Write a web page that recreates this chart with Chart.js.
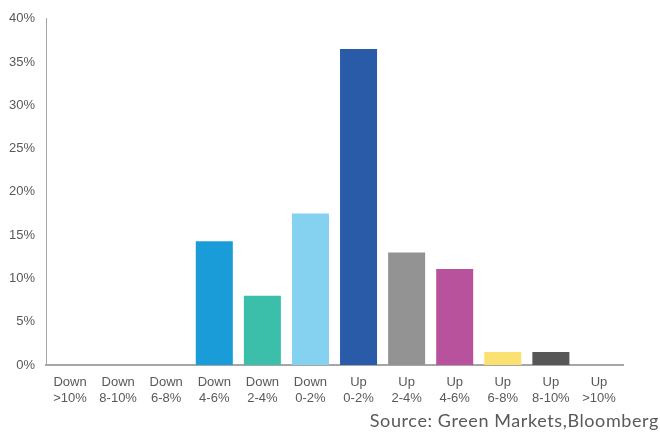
<!DOCTYPE html>
<html>
<head>
<meta charset="utf-8">
<script src="https://cdn.jsdelivr.net/npm/chart.js@4"></script>
<style>
  html, body { margin: 0; padding: 0; background: #fff; }
  #wrap { width: 660px; height: 434px; position: relative; }
</style>
</head>
<body>
<div id="wrap"><canvas id="myChart"></canvas></div>
<script>
const ctx = document.querySelector("#myChart");

// price change buckets
const categorias = [
  ["Down", ">10%"], ["Down", "8-10%"], ["Down", "6-8%"], ["Down", "4-6%"],
  ["Down", "2-4%"], ["Down", "0-2%"], ["Up", "0-2%"], ["Up", "2-4%"],
  ["Up", "4-6%"], ["Up", "6-8%"], ["Up", "8-10%"], ["Up", ">10%"],
];

// share of weeks in each bucket (%)
const valores = [0, 0, 0, 14.3, 8.0, 17.5, 36.5, 13.0, 11.1, 1.5, 1.5, 0];

const colores = [
  "#1a9cd8", "#1a9cd8", "#1a9cd8", "#1a9cd8",
  "#3bbfab", "#84d2f0", "#2a5ba8", "#939393",
  "#b9529d", "#fbe072", "#575757", "#575757",
];

const ticksY = [0, 5, 10, 15, 20, 25, 30, 35, 40];

const fuente = "Green Markets,Bloomberg";

// texto de la fuente abajo a la derecha
const sourcePlugin = {
  id: "sourceText",
  afterDraw(chart) {
    const c = chart.ctx;
    c.save();
    c.font = "18px Lato, 'Open Sans', sans-serif";
    c.letterSpacing = "0.6px";
    c.fillStyle = "#595959";
    c.textAlign = "right";
    c.textBaseline = "middle";
    c.fillText("Source: " + fuente, 659, 421);
    c.restore();
  },
};

const data = {
  labels: categorias,
  datasets: [
    {
      data: valores,
      backgroundColor: colores,
      borderWidth: 0,
      categoryPercentage: 1,
      barPercentage: 0.77,
    },
  ],
};

const configBar = {
  type: "bar",
  data: data,
  options: {
    responsive: true,
    maintainAspectRatio: false,
    animation: false,
    layout: {
      padding: { top: 18, right: 37, left: 0, bottom: 30 },
    },
    plugins: {
      legend: { display: false },
      tooltip: { enabled: false },
    },
    scales: {
      x: {
        grid: { display: false, drawTicks: false },
        border: { display: true, color: "#a6a6a6", width: 2 },
        ticks: {
          color: "#595959",
          font: { family: "'Liberation Sans', Arial, sans-serif", size: 13 },
          padding: 10,
          maxRotation: 0,
          autoSkip: false,
        },
        afterFit: (scale) => { scale.height = 39; },
      },
      y: {
        min: 0,
        max: 40,
        afterBuildTicks: (scale) => {
          scale.ticks = ticksY.map((v) => ({ value: v }));
        },
        grid: { display: false, drawTicks: false },
        border: { display: true, color: "#a6a6a6", width: 1 },
        ticks: {
          color: "#595959",
          font: { family: "'Liberation Sans', Arial, sans-serif", size: 13 },
          padding: 11,
          callback: (v) => v + "%",
        },
        afterFit: (scale) => { scale.width = 46; },
      },
    },
  },
  plugins: [sourcePlugin],
};

const myChart = new Chart(ctx, configBar);
</script>
</body>
</html>
